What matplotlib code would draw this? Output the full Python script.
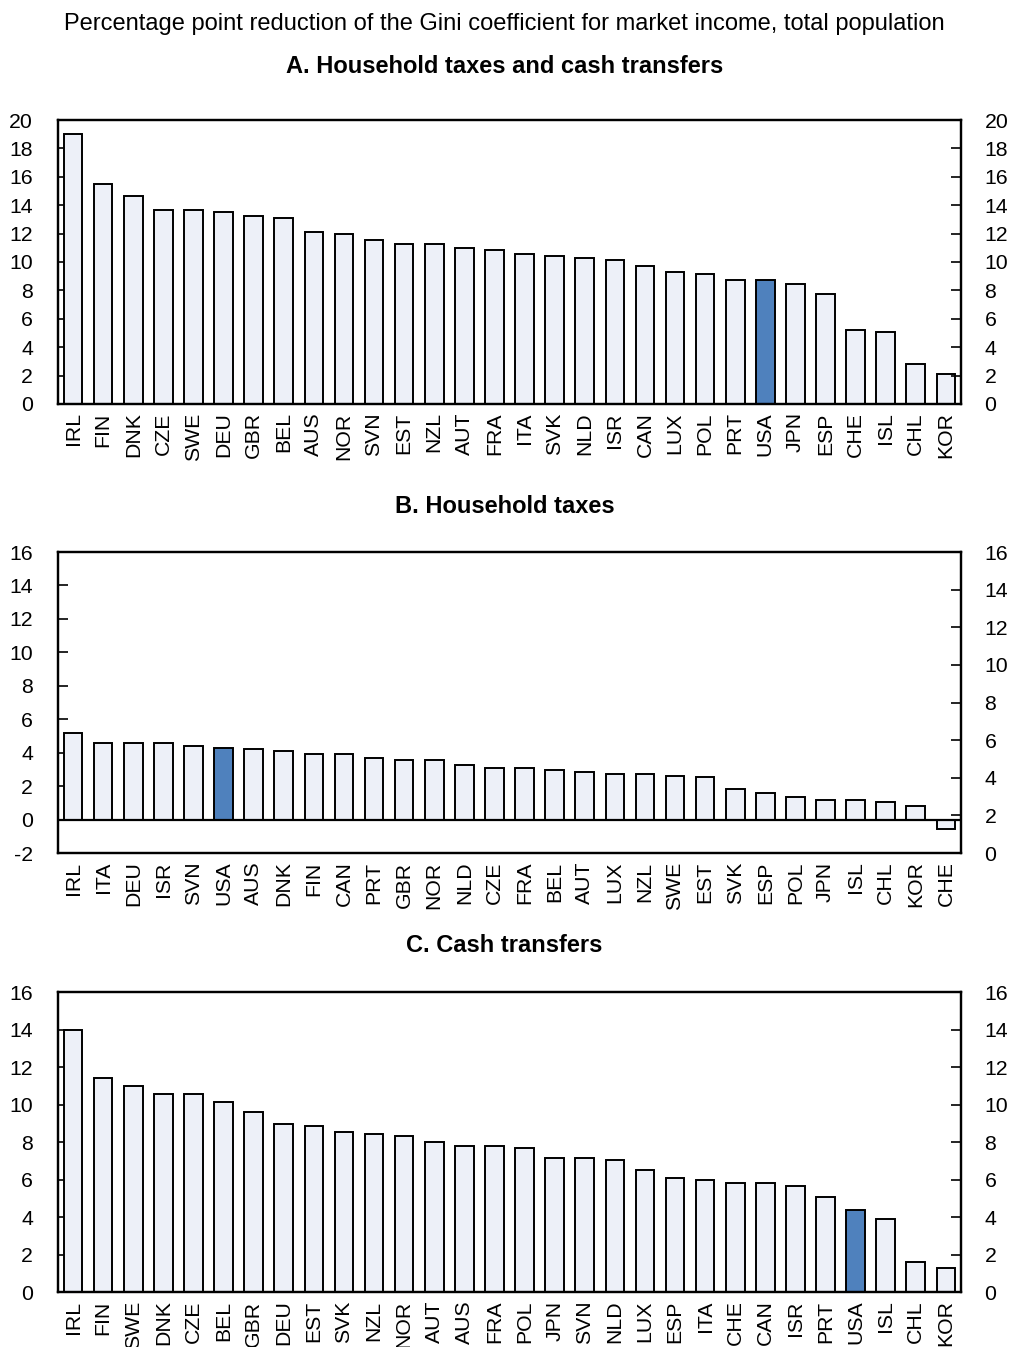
import numpy as np
import matplotlib
matplotlib.use('Agg')
import matplotlib.pyplot as plt

plt.rcParams['font.family'] = ['Liberation Sans', 'DejaVu Sans']
plt.rcParams['axes.unicode_minus'] = False

# Panel A: household taxes and cash transfers
countries_a = ['IRL', 'FIN', 'DNK', 'CZE', 'SWE', 'DEU', 'GBR', 'BEL', 'AUS', 'NOR',
               'SVN', 'EST', 'NZL', 'AUT', 'FRA', 'ITA', 'SVK', 'NLD', 'ISR', 'CAN',
               'LUX', 'POL', 'PRT', 'USA', 'JPN', 'ESP', 'CHE', 'ISL', 'CHL', 'KOR']
values_a = [19.0, 15.5, 14.65, 13.66, 13.66, 13.5, 13.24, 13.08, 12.1, 11.97,
            11.55, 11.27, 11.27, 11.0, 10.85, 10.56, 10.42, 10.28, 10.14, 9.72,
            9.3, 9.15, 8.73, 8.73, 8.45, 7.75, 5.2, 5.1, 2.8, 2.1]

# Panel B: household taxes
countries_b = ['IRL', 'ITA', 'DEU', 'ISR', 'SVN', 'USA', 'AUS', 'DNK', 'FIN', 'CAN',
               'PRT', 'GBR', 'NOR', 'NLD', 'CZE', 'FRA', 'BEL', 'AUT', 'LUX', 'NZL',
               'SWE', 'EST', 'SVK', 'ESP', 'POL', 'JPN', 'ISL', 'CHL', 'KOR', 'CHE']
values_b = [5.15, 4.57, 4.57, 4.57, 4.42, 4.3, 4.2, 4.08, 3.94, 3.94,
            3.7, 3.58, 3.58, 3.24, 3.1, 3.1, 2.98, 2.84, 2.74, 2.74,
            2.62, 2.52, 1.8, 1.57, 1.33, 1.2, 1.2, 1.06, 0.83, -0.59]

# Panel C: cash transfers
countries_c = ['IRL', 'FIN', 'SWE', 'DNK', 'CZE', 'BEL', 'GBR', 'DEU', 'EST', 'SVK',
               'NZL', 'NOR', 'AUT', 'AUS', 'FRA', 'POL', 'JPN', 'SVN', 'NLD', 'LUX',
               'ESP', 'ITA', 'CHE', 'CAN', 'ISR', 'PRT', 'USA', 'ISL', 'CHL', 'KOR']
values_c = [14.0, 11.43, 11.0, 10.55, 10.55, 10.12, 9.59, 8.97, 8.86, 8.54,
            8.43, 8.34, 8.0, 7.81, 7.81, 7.7, 7.15, 7.15, 7.04, 6.5,
            6.08, 6.0, 5.8, 5.8, 5.65, 5.05, 4.4, 3.9, 1.6, 1.28]

light = '#EDF0F8'
blue = '#4F81BD'
fs = 15.3      # tick labels
tfs = 17       # titles

fig = plt.figure(figsize=(10.09, 13.47), dpi=100)

fig.text(0.5, 0.982, 'Percentage point reduction of the Gini coefficient for market income, total population',
         ha='center', va='center', fontsize=tfs)

panels = [
    ('A. Household taxes and cash transfers', countries_a, values_a,
     [0.0575, 0.7001, 0.8949, 0.2108], (0, 20), (0, 20), 0.951),
    ('B. Household taxes', countries_b, values_b,
     [0.0575, 0.3667, 0.8949, 0.2235], (-2, 16), (0, 16), 0.6243),
    ('C. Cash transfers', countries_c, values_c,
     [0.0575, 0.0408, 0.8949, 0.2227], (0, 16), (0, 16), 0.2984),
]

for title, cats, vals, pos, ylim_l, ylim_r, ty in panels:
    ax = fig.add_axes(pos)
    x = np.arange(len(cats))
    colors = [blue if c == 'USA' else light for c in cats]
    ax.bar(x, vals, width=0.62, color=colors, edgecolor='black', linewidth=1.4, zorder=2)
    ax.set_xlim(-0.5, len(cats) - 0.5)
    ax.set_ylim(*ylim_l)
    ax.set_yticks(np.arange(ylim_l[0], ylim_l[1] + 1, 2))
    if ylim_l[0] < 0:
        ax.axhline(0, color='black', linewidth=1.6, zorder=3)
    ax.set_xticks(x)
    ax.set_xticklabels(cats, rotation=90, fontsize=fs)
    ax.tick_params(axis='x', length=0, pad=6)
    ax.tick_params(axis='y', direction='in', length=7, width=1.2, pad=18, labelsize=fs)
    for s in ax.spines.values():
        s.set_linewidth(1.6)

    ax2 = ax.twinx()
    ax2.set_ylim(*ylim_r)
    ax2.set_yticks(np.arange(ylim_r[0], ylim_r[1] + 1, 2))
    ax2.tick_params(axis='y', direction='in', length=7, width=1.2, pad=17, labelsize=fs)
    for s in ax2.spines.values():
        s.set_linewidth(1.6)

    fig.text(0.5, ty, title, ha='center', va='center', fontsize=tfs, fontweight='bold')

fig.savefig('out.png', dpi=100)
